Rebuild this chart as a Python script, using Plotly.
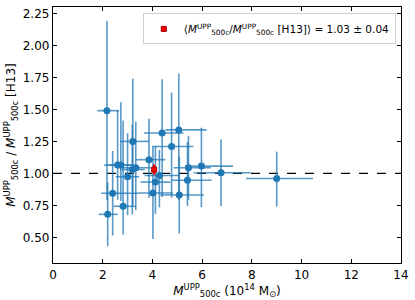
import plotly.graph_objects as go

# --- data ---
mass_upp = [2.17, 2.20, 2.40, 2.60, 2.73, 2.82, 3.00, 3.19, 3.21, 3.33, 3.86, 4.02,
            4.12, 4.28, 4.39, 4.77, 5.06, 5.08, 5.41, 5.45, 5.97, 6.76, 9.00]
ratio = [1.49, 0.68, 0.845, 1.065, 1.065, 0.743, 0.974, 1.03, 1.25, 1.044, 1.107, 0.847,
         0.932, 0.984, 1.316, 1.21, 1.34, 0.831, 0.946, 1.044, 1.057, 1.005, 0.96]
mass_err_lo = [0.39, 0.36, 0.46, 0.55, 0.50, 0.39, 0.47, 0.50, 0.52, 0.55, 0.53, 0.56,
               0.60, 0.60, 0.73, 0.78, 0.54, 0.76, 0.62, 0.60, 0.65, 1.10, 1.23]
mass_err_hi = [0.48, 0.40, 1.06, 0.60, 0.55, 0.51, 0.46, 0.50, 0.65, 0.60, 0.66, 0.80,
               0.60, 0.80, 0.86, 0.88, 1.12, 0.99, 0.97, 0.90, 1.27, 1.19, 1.46]
ratio_err_lo = [0.70, 0.25, 0.33, 0.27, 0.28, 0.22, 0.30, 0.35, 0.50, 0.33, 0.30, 0.36,
                0.25, 0.25, 0.50, 0.40, 0.55, 0.30, 0.20, 0.25, 0.32, 0.26, 0.22]
ratio_err_hi = [0.70, 0.25, 0.33, 0.43, 0.49, 0.67, 0.34, 0.35, 0.49, 0.36, 0.32, 0.36,
                0.28, 0.20, 0.42, 0.42, 0.44, 0.30, 0.30, 0.25, 0.30, 0.26, 0.21]

mean_mass = [4.07]
mean_ratio = [1.03]
mean_ratio_err = [0.04]
reference_ratio = 1.0

x_ticks = [0, 2, 4, 6, 8, 10, 12, 14]
y_ticks = [0.50, 0.75, 1.00, 1.25, 1.50, 1.75, 2.00, 2.25]

M = "<i>M</i><sup>UPP</sup><sub>500c</sub>"

fig = go.Figure()
fig.add_trace(go.Scatter(
    x=mass_upp, y=ratio, mode="markers",
    marker=dict(color="#1f77b4", size=7, symbol="circle"),
    error_x=dict(type="data", symmetric=False, array=mass_err_hi, arrayminus=mass_err_lo,
                 color="rgba(31,119,180,0.75)", thickness=1.6, width=0),
    error_y=dict(type="data", symmetric=False, array=ratio_err_hi, arrayminus=ratio_err_lo,
                 color="rgba(31,119,180,0.75)", thickness=1.6, width=0),
    showlegend=False,
))
fig.add_trace(go.Scatter(
    x=mean_mass, y=mean_ratio, mode="markers",
    marker=dict(color="red", size=5, symbol="square", line=dict(color="#a00000", width=1)),
    error_y=dict(type="data", array=mean_ratio_err, color="red", thickness=2.5, width=0),
    name="⟨" + M + "/" + M + " [H13]⟩ = 1.03 ± 0.04",
    showlegend=True,
))

fig.add_shape(type="line", xref="paper", yref="y", x0=0, x1=1,
              y0=reference_ratio, y1=reference_ratio,
              line=dict(color="black", width=1.3, dash="dash"), layer="below")

axis_common = dict(showline=True, linecolor="black", linewidth=1.3, mirror="ticks",
                   ticks="inside", ticklen=4, tickwidth=1, tickcolor="black",
                   showgrid=False, zeroline=False,
                   tickfont=dict(family="DejaVu Sans", size=12, color="black"))

fig.update_layout(
    width=415, height=300,
    margin=dict(l=53, r=10, t=6, b=37),
    paper_bgcolor="white", plot_bgcolor="white",
    font=dict(family="DejaVu Sans", size=12, color="black"),
    xaxis=dict(range=[0, 14], tickvals=x_ticks, ticktext=[str(v) for v in x_ticks],
               title=dict(text=M + " (10<sup>14</sup> M<sub>⊙</sub>)", standoff=2,
                          font=dict(size=12)),
               **axis_common),
    yaxis=dict(range=[0.3, 2.3], tickvals=y_ticks, ticktext=[f"{v:.2f}" for v in y_ticks],
               title=dict(text=M + " / " + M + " [H13]", standoff=4, font=dict(size=12)),
               **axis_common),
    legend=dict(x=0.985, y=0.975, xanchor="right", yanchor="top",
                bgcolor="rgba(255,255,255,0.9)", bordercolor="#d0d0d0", borderwidth=1,
                font=dict(family="DejaVu Sans", size=10.5, color="black"),
                itemwidth=30, tracegroupgap=0),
)

fig.write_html("out.html", config={"displayModeBar": False},
               post_script="document.body.style.margin='0';document.body.style.overflow='hidden';")
